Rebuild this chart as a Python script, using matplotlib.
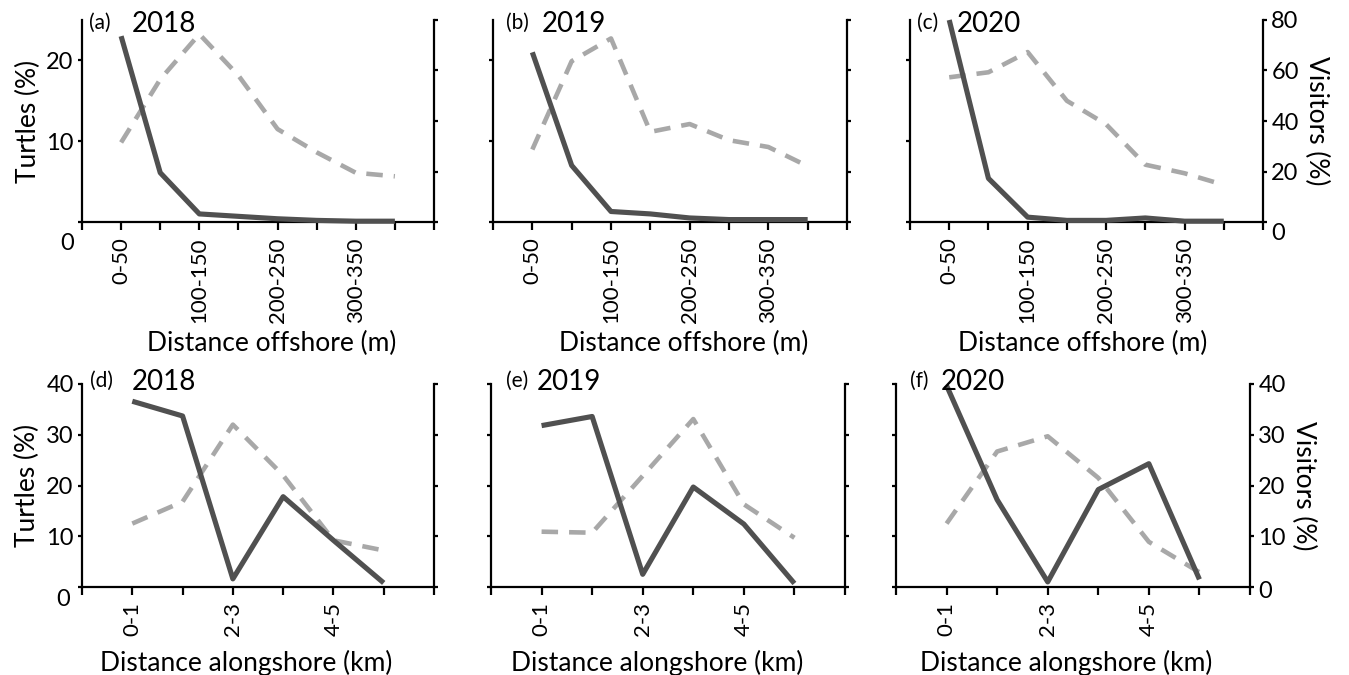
import matplotlib
matplotlib.use("Agg")
import matplotlib.pyplot as plt
import matplotlib.transforms as mtransforms
import numpy as np

plt.rcParams['font.family'] = ['Lato', 'DejaVu Sans']

# ---------------- data ----------------
offshore_cats = ["0-50", "50-100", "100-150", "150-200", "200-250", "250-300", "300-350", "350-400"]
alongshore_cats = ["0-1", "1-2", "2-3", "3-4", "4-5", "5-6"]

turtles_off_2018 = [23.0, 6.1, 1.0, 0.7, 0.4, 0.2, 0.1, 0.1]
visitors_off_2018 = [31.5, 56.5, 74.4, 58.0, 36.8, 27.6, 19.5, 18.1]
turtles_off_2019 = [21.0, 7.0, 1.3, 1.0, 0.5, 0.3, 0.3, 0.3]
visitors_off_2019 = [28.7, 63.7, 72.7, 35.7, 38.8, 32.4, 29.7, 22.1]
turtles_off_2020 = [25.0, 5.4, 0.6, 0.2, 0.2, 0.5, 0.1, 0.1]
visitors_off_2020 = [57.3, 59.3, 67.3, 48.0, 38.7, 22.7, 19.3, 14.7]

turtles_along_2018 = [36.6, 33.7, 1.6, 17.8, 9.2, 0.8]
visitors_along_2018 = [12.5, 16.8, 32.0, 22.0, 9.2, 7.2]
turtles_along_2019 = [31.8, 33.6, 2.5, 19.7, 12.4, 0.7]
visitors_along_2019 = [10.9, 10.7, 21.9, 33.1, 16.3, 9.7]
turtles_along_2020 = [39.7, 17.2, 1.0, 19.2, 24.3, 1.5]
visitors_along_2020 = [12.5, 26.7, 29.7, 21.5, 8.9, 2.9]

years = ["2018", "2019", "2020"]
top_letters = ["(a)", "(b)", "(c)"]
bot_letters = ["(d)", "(e)", "(f)"]

# ---------------- layout ----------------
W, H = 1349, 675
fig = plt.figure(figsize=(W / 100, H / 100), dpi=100)

def rect(x0, x1, ytop, ybot):
    return [x0 / W, 1 - ybot / H, (x1 - x0) / W, (ybot - ytop) / H]

top_rects = [rect(82, 434, 20, 222), rect(493, 847, 20, 222), rect(910, 1263, 20, 222)]
bot_rects = [rect(82, 434, 384, 587), rect(491, 845, 384, 587), rect(896, 1250, 384, 587)]

DARK = '#505050'
LIGHT = '#a8a8a8'
FS_TICK = 17
FS_XTICK = 16
FS_LAB = 19
FS_YEAR = 20
FS_LET = 15

top_t = [turtles_off_2018, turtles_off_2019, turtles_off_2020]
top_v = [visitors_off_2018, visitors_off_2019, visitors_off_2020]
bot_t = [turtles_along_2018, turtles_along_2019, turtles_along_2020]
bot_v = [visitors_along_2018, visitors_along_2019, visitors_along_2020]


def offset_label(lbl, dx_px, dy_px):
    lbl.set_transform(lbl.get_transform() +
                      mtransforms.ScaledTranslation(dx_px / 100, dy_px / 100, fig.dpi_scale_trans))


def make_panel(r, cats, turtles, visitors, tlim, tticks, vlim, vticks,
               letter, year, xlabel, show_left, show_right, xlab_xy,
               letter_x, year_x, title_y, left_zero, right_zero_dy):
    ax = fig.add_axes(r)
    ax2 = ax.twinx()
    n = len(cats)
    x = np.arange(1, n + 1)
    ax.plot(x, turtles, color=DARK, lw=3.7, solid_capstyle='butt', zorder=3, clip_on=False)
    ax2.plot(x, visitors, color=LIGHT, lw=3.3, dashes=(3.6, 2.4), zorder=2)
    ax.set_zorder(ax2.get_zorder() + 1)
    ax.patch.set_visible(False)

    ax.set_xlim(0, n + 1)
    ax.set_ylim(*tlim)
    ax2.set_ylim(*vlim)
    ax.set_xticks(np.arange(0, n + 2))
    labels = [""] + [c if i % 2 == 0 else "" for i, c in enumerate(cats)] + [""]
    ax.set_xticklabels(labels, rotation=90, fontsize=FS_XTICK)

    for a in (ax, ax2):
        for s in a.spines.values():
            s.set_linewidth(1.6)
        a.spines['top'].set_visible(False)
    ax.spines['right'].set_visible(False)
    ax2.spines['left'].set_visible(False)
    ax2.spines['bottom'].set_visible(False)

    ax.tick_params(axis='x', direction='out', length=6, width=1.6, pad=5)
    ax.tick_params(axis='y', direction='out', length=3, width=1.6, pad=3)
    ax2.tick_params(axis='y', direction='out', length=3, width=1.6, pad=3)

    ax.set_yticks(tticks)
    ax2.set_yticks(vticks)
    if show_left:
        ax.set_yticklabels([str(v) for v in tticks], fontsize=FS_TICK)
        offset_label(ax.get_yticklabels()[0], left_zero[0], -left_zero[1])
        ax.set_ylabel("Turtles (%)", fontsize=FS_LAB, labelpad=4)
    else:
        ax.set_yticklabels([])
    if show_right:
        ax2.set_yticklabels([str(v) for v in vticks], fontsize=FS_TICK)
        offset_label(ax2.get_yticklabels()[0], 0, -right_zero_dy)
        ax2.set_ylabel("Visitors (%)", fontsize=FS_LAB, rotation=270, labelpad=22)
    else:
        ax2.set_yticklabels([])

    ax.set_xlabel(xlabel, fontsize=FS_LAB)
    ax.xaxis.set_label_coords(*xlab_xy)
    ax.text(letter_x, title_y, letter, transform=ax.transAxes, fontsize=FS_LET,
            va='center', ha='left')
    ax.text(year_x, title_y - 0.005, year, transform=ax.transAxes, fontsize=FS_YEAR,
            va='center', ha='left')
    return ax, ax2


top_letter_x = [0.02, 0.037, 0.02]
top_year_x = [0.14, 0.137, 0.132]
top_xlab = [0.54, 0.54, 0.49]
bot_letter_x = [0.023, 0.042, 0.04]
bot_year_x = [0.14, 0.13, 0.125]
bot_xlab = [0.467, 0.47, 0.48]

for i in range(3):
    make_panel(top_rects[i], offshore_cats, top_t[i], top_v[i], (0, 25), [0, 10, 20],
               (0, 80), [0, 20, 40, 60, 80], top_letters[i], years[i],
               "Distance offshore (m)", i == 0, i == 2, (top_xlab[i], -0.54),
               top_letter_x[i], top_year_x[i], 0.985, (0, 20), 10)
    make_panel(bot_rects[i], alongshore_cats, bot_t[i], bot_v[i], (0, 40), [0, 10, 20, 30, 40],
               (0, 40), [0, 10, 20, 30, 40], bot_letters[i], years[i],
               "Distance alongshore (km)", i == 0, i == 2, (bot_xlab[i], -0.31),
               bot_letter_x[i], bot_year_x[i], 1.015, (-4, 11), 2)

fig.savefig("out.png", dpi=100)
